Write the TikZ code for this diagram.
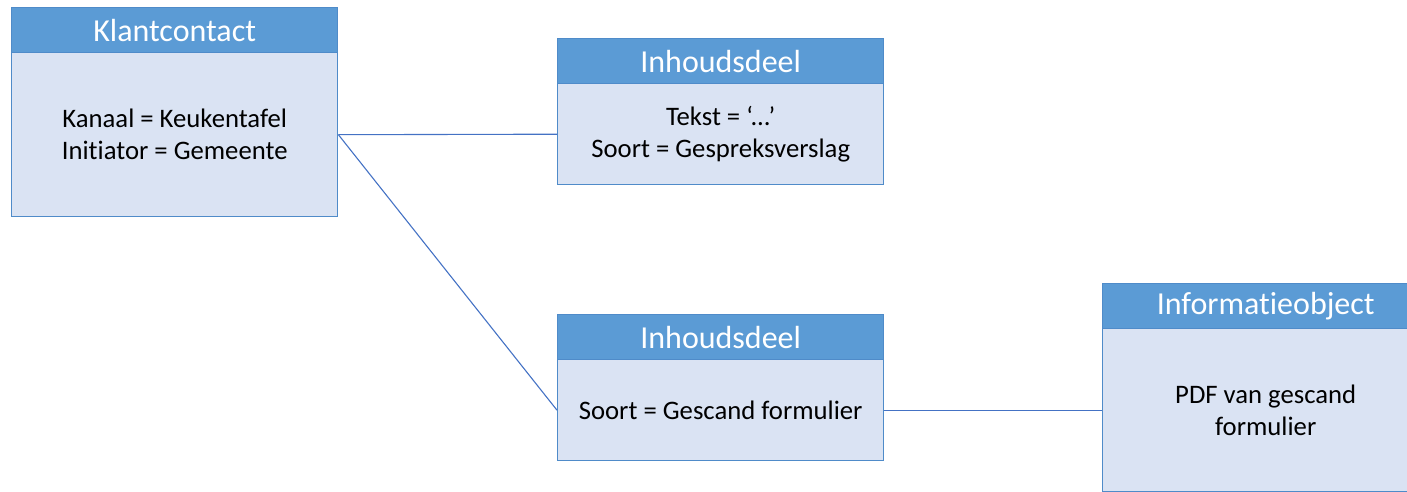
\documentclass[tikz,border=0pt]{standalone}
\usepackage{fontspec}
\setmainfont[Ligatures=NoCommon]{Carlito}
\definecolor{headblue}{HTML}{5B9BD5}
\definecolor{bodyblue}{HTML}{DAE3F3}
\definecolor{edgeblue}{HTML}{4F8BC9}
\definecolor{linkblue}{HTML}{4472C4}
\tikzset{
  head/.style={draw=edgeblue, line width=1.4pt, fill=headblue, text=white,
    anchor=north west, inner sep=0pt, minimum width=326pt, minimum height=45pt,
    font=\fontsize{32}{38}\selectfont},
  body/.style={draw=edgeblue, line width=1.4pt, fill=bodyblue, text=black,
    anchor=north west, inner sep=0pt, minimum width=326pt, align=center,
    font=\fontsize{26.7}{32}\selectfont},
  link/.style={draw=linkblue, line width=1.1pt}
}
\begin{document}
\begin{tikzpicture}[x=1pt,y=-1pt]
\useasboundingbox (0,0) rectangle (1407,492);
\clip (0,0) rectangle (1407,492);
% Klantcontact
\node[body, minimum height=164pt] (kcb) at (11,52) {Kanaal = Keukentafel\\Initiator = Gemeente};
\node[head] (kch) at (11,7) {Klantcontact};
% first content part
\node[body, minimum height=101pt] (i1b) at (557,83) {Tekst = ‘...’\\Soort = Gespreksverslag};
\node[head] (i1h) at (557,38) {Inhoudsdeel};
% second content part
\node[body, minimum height=101pt] (i2b) at (557,359) {Soort = Gescand formulier};
\node[head] (i2h) at (557,314) {Inhoudsdeel};
% information object
\node[body, minimum height=163pt] (iob) at (1102,328) {PDF van gescand\\formulier};
\node[head] (ioh) at (1102,283) {Informatieobject};
% connectors
\draw[link] (kcb.east) -- (i1b.west);
\draw[link] (kcb.east) -- (i2b.west);
\draw[link] (i2b.east) -- (iob.west);
\end{tikzpicture}
\end{document}
